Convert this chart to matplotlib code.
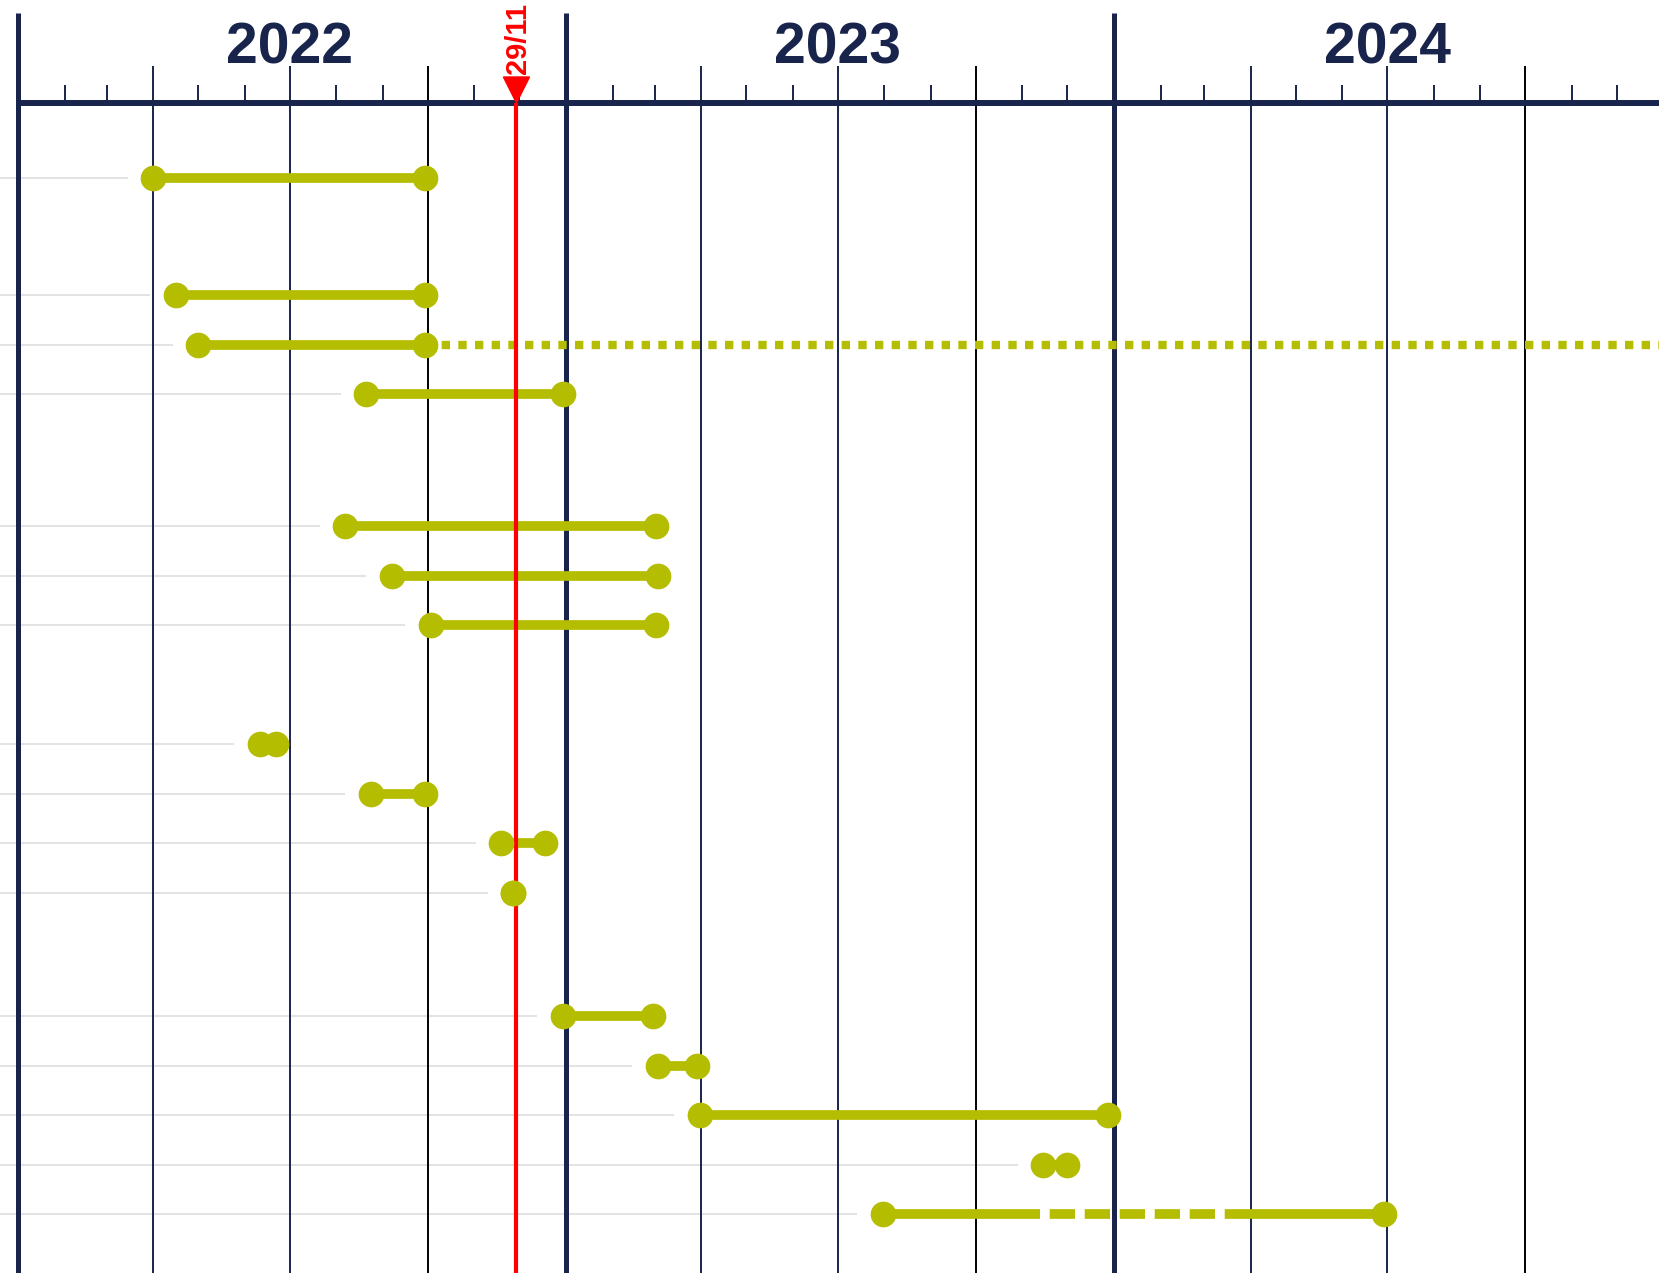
import matplotlib
matplotlib.use("Agg")
import matplotlib.pyplot as plt
import matplotlib.dates as mdates
from matplotlib.patches import Polygon
from datetime import date

NAVY = "#18244c"
OLIVE = "#b5bd00"
RED = "#ff0000"
GREY = "#e3e3e3"

# rows are drawn in groups, top to bottom
group_sizes = [1, 3, 3, 4, 5]
starts = ["2022-04-01", "2022-04-16", "2022-05-01", "2022-08-21",
          "2022-08-07", "2022-09-07", "2022-10-03",
          "2022-06-11", "2022-08-24", "2022-11-19", "2022-11-27",
          "2022-12-30", "2023-03-03", "2023-03-31", "2023-11-15", "2023-07-31"]
ends = ["2022-09-29", "2022-09-29", "2022-09-29", "2022-12-30",
        "2023-03-02", "2023-03-03", "2023-03-02",
        "2022-06-22", "2022-09-29", "2022-12-18", "2022-11-27",
        "2023-02-28", "2023-03-29", "2023-12-28", "2023-12-01", "2024-06-29"]

# row 3 goes on past the window as a dotted line
dotted_rows = [2]
dotted_ends = ["2025-03-31"]
# last row has a dashed stretch in the middle
dashed_rows = [15]
dashed_from = ["2023-11-13"]
dashed_to = ["2024-03-18"]

today = "2022-11-29"
today_label = "29/11"
years = [2022, 2023, 2024]


def d2n(s):
    return mdates.datestr2num(s)


# row positions (pixels from top)
group_top = [178, 295, 526, 744, 1016]
row_step = 49.6
row_y = []
for top, n in zip(group_top, group_sizes):
    for i in range(n):
        row_y.append(top + i * row_step)

fig = plt.figure(figsize=(16.59, 12.73), dpi=100)
ax = fig.add_axes([0, 0, 1, 1])
ax.set_axis_off()
xmin, xmax = d2n("2021-12-20"), d2n("2024-12-29")
ax.set_xlim(xmin, xmax)
ax.set_ylim(1273, 0)

axis_y = 103

# grey guide lines for each row
for s, yy in zip(starts, row_y):
    ax.plot([xmin, d2n(s) - 17], [yy, yy], color=GREY, lw=1.4, zorder=1,
            solid_capstyle="butt")

# time grid
for yr in years:
    for m in range(1, 13):
        x = mdates.date2num(date(yr, m, 1))
        if m == 1:
            ax.plot([x, x], [13, 1273], color=NAVY, lw=3.6, zorder=2,
                    solid_capstyle="butt")
        elif m in (4, 7, 10):
            c = "black" if m == 10 else NAVY
            ax.plot([x, x], [66, 1273], color=c, lw=1.4, zorder=2,
                    solid_capstyle="butt")
        else:
            ax.plot([x, x], [85, axis_y], color=NAVY, lw=1.4, zorder=2,
                    solid_capstyle="butt")
    ax.text(mdates.date2num(date(yr, 7, 1)), 63, str(yr), ha="center",
            va="baseline", fontsize=41, fontweight="bold", color=NAVY,
            family="Liberation Sans")

ax.plot([d2n("2022-01-01"), xmax], [axis_y, axis_y], color=NAVY, lw=4.3,
        zorder=2, solid_capstyle="butt")

# bars
for i, (s, e) in enumerate(zip(starts, ends)):
    yy = row_y[i]
    xs, xe = d2n(s), d2n(e)
    if i in dashed_rows:
        k = dashed_rows.index(i)
        a, b = d2n(dashed_from[k]), d2n(dashed_to[k])
        ax.plot([xs, a], [yy, yy], color=OLIVE, lw=7, zorder=3,
                solid_capstyle="butt")
        ax.plot([a, b], [yy, yy], color=OLIVE, lw=7, zorder=3,
                linestyle=(2.6, (2.6, 1.0)), dash_capstyle="butt")
        ax.plot([b, xe], [yy, yy], color=OLIVE, lw=7, zorder=3,
                solid_capstyle="butt")
    else:
        ax.plot([xs, xe], [yy, yy], color=OLIVE, lw=7, zorder=3,
                solid_capstyle="butt")
    if i in dotted_rows:
        k = dotted_rows.index(i)
        ax.plot([xe, d2n(dotted_ends[k])], [yy, yy], color=OLIVE, lw=6,
                zorder=3, linestyle=(0, (1, 1)), dash_capstyle="butt")
    ax.plot([xs, xe], [yy, yy], "o", ms=18.5, color=OLIVE, mec="none",
            zorder=5)

# today marker
t = d2n(today)
ax.plot([t, t], [axis_y, 1273], color=RED, lw=3, zorder=4,
        solid_capstyle="butt")
ax.add_patch(Polygon([(t - 8.7, 77), (t + 8.7, 77), (t, axis_y)],
                     closed=True, color=RED, zorder=4))
ax.text(t + 1, 74, today_label, rotation=90, ha="center", va="bottom",
        fontsize=21, fontweight="bold", color=RED, family="Liberation Sans")

fig.savefig("out.png", dpi=100)
